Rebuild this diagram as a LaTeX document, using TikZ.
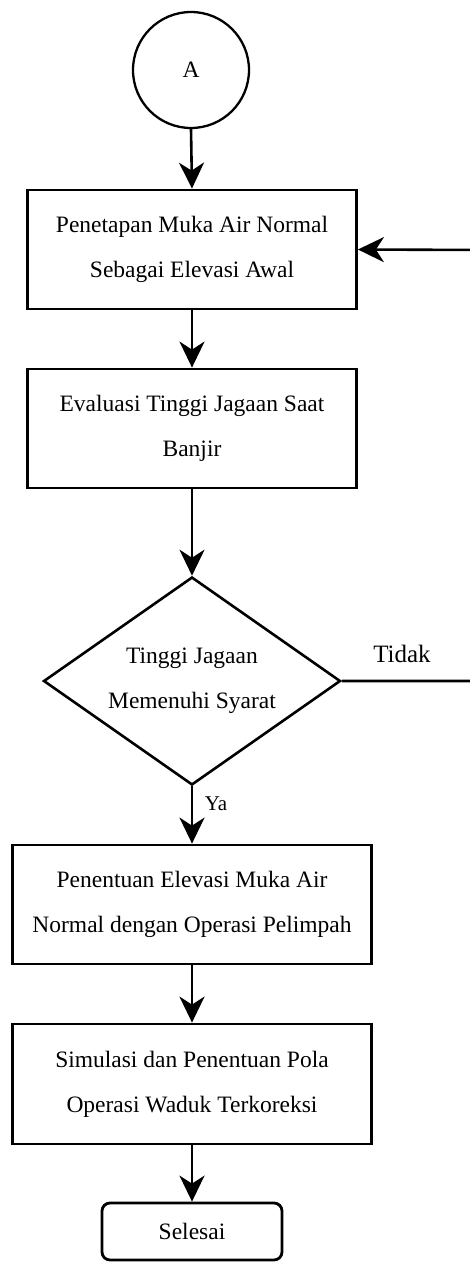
\documentclass[tikz,border=0pt]{standalone}
\usepackage{fontspec}
\setmainfont{Liberation Serif}
\usetikzlibrary{shapes.geometric,arrows.meta}
\begin{document}
\begin{tikzpicture}[x=1pt,y=-1pt,
  every node/.style={font=\fontsize{23.5}{45}\selectfont},
  procbox/.style={draw,line width=2.8pt,rectangle,align=center,inner sep=0pt},
  decbox/.style={draw,line width=2.6pt,diamond,align=center,inner sep=0pt,minimum width=297pt,minimum height=208pt,aspect=1.43},
  termbox/.style={draw,line width=2.8pt,rectangle,rounded corners=8pt,inner sep=0pt,minimum width=180pt,minimum height=57pt},
  conn/.style={circle,draw,line width=2.3pt,minimum size=116pt,inner sep=0pt},
  flow/.style={line width=2.6pt,-{Stealth[length=26pt,width=25pt,inset=8pt]}},
  plain/.style={line width=2.6pt}]
\useasboundingbox (0,0) rectangle (469,1262);
\node[conn] (a) at (191,70) {A};
\node[procbox,minimum width=329pt,minimum height=119pt] (b1) at (192,249.5) {Penetapan Muka Air Normal\\Sebagai Elevasi Awal};
\node[procbox,minimum width=329pt,minimum height=119pt] (b2) at (192,428.5) {Evaluasi Tinggi Jagaan Saat\\Banjir};
\node[decbox] (d) at (192,681) {Tinggi Jagaan\\Memenuhi Syarat};
\node[procbox,minimum width=359pt,minimum height=119pt] (b3) at (192,904.5) {Penentuan Elevasi Muka Air\\Normal dengan Operasi Pelimpah};
\node[procbox,minimum width=359pt,minimum height=120pt] (b4) at (192,1084) {Simulasi dan Penentuan Pola\\Operasi Waduk Terkoreksi};
\node[termbox] (end) at (192,1231.5) {Selesai};
\coordinate (r1) at (485,681);
\coordinate (r2) at (485,250);
\draw[flow] (a.south) -- (b1.north);
\draw[flow] (b1.south) -- (b2.north);
\draw[flow] (b2.south) -- (d.north);
\draw[flow] (d.south) -- (b3.north);
\draw[flow] (b3.south) -- (b4.north);
\draw[flow] (b4.south) -- (end.north);
\draw[flow] (d.east) -- (r1) -- (r2) -- (b1.east);
\node[font=\fontsize{25}{30}\selectfont] (tidak) at (402,654) {Tidak};
\node[font=\fontsize{21}{25}\selectfont] (ya) at (216,804) {Ya};
\end{tikzpicture}
\end{document}
